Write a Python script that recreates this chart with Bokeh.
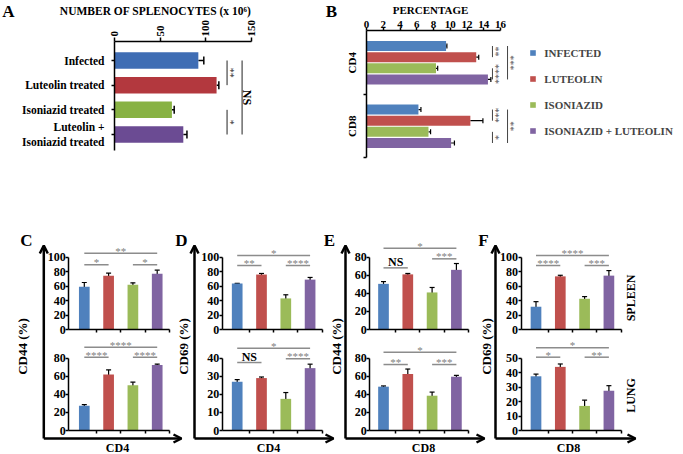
import math
from bokeh.plotting import figure
from bokeh.models import (Range1d, LinearAxis, FixedTicker, Whisker, TeeHead, Arrow,
                          OpenHead, ColumnDataSource, Legend, LegendItem)
from bokeh.layouts import column, row
from bokeh.core.properties import value
from bokeh.embed import file_html
from bokeh.resources import INLINE

FONT = "Liberation Serif"

# ---------------- data ----------------
# Panel A
a_categories = ["Infected", "Luteolin treated", "Isoniazid treated", "Luteolin +\nIsoniazid treated"]
a_counts = [92, 112, 63, 75.5]
a_count_err = [6, 2.5, 2.5, 4]
a_ticks = [0, 50, 100, 150]
a_comparisons = [(0, 1, "**"), (2, 3, "*"), (0, 3, "NS")]

# Panel B
b_series = ["INFECTED", "LUTEOLIN", "ISONIAZID", "ISONIAZID + LUTEOLIN"]
b_cells = ["CD4", "CD8"]
b_cd4 = [9.5, 13.1, 8.3, 14.5]
b_cd4_err = [0.1, 0.3, 0.2, 0.35]
b_cd8 = [6.2, 12.4, 7.4, 10.1]
b_cd8_err = [0.3, 1.5, 0.25, 0.4]
b_ticks = [0, 2, 4, 6, 8, 10, 12, 14, 16]
b_cd4_comparisons = [(0, 1, "**"), (2, 3, "****"), (0, 3, "***")]
b_cd8_comparisons = [(0, 1, "***"), (2, 3, "*"), (0, 3, "**")]

# Panels C-F (spleen = upper plot, lung = lower plot)
treatments = ["Infected", "Luteolin", "Isoniazid", "Isoniazid + Luteolin"]
c_spleen = [59, 74.5, 62, 77]
c_spleen_err = [6, 3.5, 2.5, 5]
c_lung = [27.5, 62, 50, 72.5]
c_lung_err = [1.2, 5, 3.5, 1]
d_spleen = [63.5, 76, 43, 69]
d_spleen_err = [0.5, 1.5, 5, 3]
d_lung = [27, 29, 17.5, 34.5]
d_lung_err = [1.2, 0.6, 3.5, 2.2]
e_spleen = [50.5, 61, 41, 66]
e_spleen_err = [2.5, 1, 5.5, 7]
e_lung = [48.5, 62.5, 38.5, 59.5]
e_lung_err = [0.8, 5.5, 4, 1.5]
f_spleen = [31.5, 73.5, 42.5, 74.5]
f_spleen_err = [7, 1.5, 3, 7]
f_lung = [37.5, 44, 17, 27.5]
f_lung_err = [1.5, 2, 4, 3.5]

c_spleen_sig = [(0, 1, "*"), (2, 3, "*"), (0, 3, "**")]
c_lung_sig = [(0, 1, "****"), (2, 3, "****"), (0, 3, "****")]
d_spleen_sig = [(0, 1, "**"), (2, 3, "****"), (0, 3, "*")]
d_lung_sig = [(0, 1, "NS"), (2, 3, "****"), (0, 3, "*")]
e_spleen_sig = [(0, 1, "NS"), (2, 3, "***"), (0, 3, "*")]
e_lung_sig = [(0, 1, "**"), (2, 3, "***"), (0, 3, "*")]
f_spleen_sig = [(0, 1, "****"), (2, 3, "***"), (0, 3, "****")]
f_lung_sig = [(0, 1, "*"), (2, 3, "**"), (0, 3, "*")]

A_COLORS = ["#3f6db4", "#b3383e", "#88b244", "#6b4b93"]
COLORS = ["#4f81bd", "#c0504d", "#9bbb59", "#8064a2"]


# ---------------- helpers ----------------
def lin_range(va, pa, vb, pb, p_start, p_end):
    k = (vb - va) / (pb - pa)
    return Range1d(start=va + (p_start - pa) * k, end=va + (p_end - pa) * k)


def make_fig(x0, y0, w, h):
    p = figure(width=w, height=h, x_range=Range1d(x0, x0 + w), y_range=Range1d(y0 + h, y0),
               output_backend="svg", toolbar_location=None,
               x_axis_location=None, y_axis_location=None, min_border=0)
    p.outline_line_color = None
    p.xgrid.grid_line_color = None
    p.ygrid.grid_line_color = None
    p.background_fill_color = "white"
    p.border_fill_color = "white"
    return p


def add_text(p, x, y, s, size, angle=0.0, align="center", baseline="middle", color="black",
             style="bold", xr="default", yr="default", xo=0, yo=0):
    p.text(x=[x], y=[y], text=[s], angle=angle, text_font=value(FONT),
           text_font_size=value(f"{size}px"), text_font_style=style, text_align=align,
           text_baseline=baseline, text_color=color, x_offset=xo, y_offset=yo,
           x_range_name=xr, y_range_name=yr)


def style_axis(ax, size=12, width=1.5):
    ax.axis_line_width = width
    ax.axis_line_color = "black"
    ax.major_tick_line_width = width
    ax.minor_tick_line_width = width
    ax.major_label_text_font = FONT
    ax.major_label_text_font_style = "bold"
    ax.major_label_text_font_size = f"{size}px"
    ax.major_label_text_color = "black"
    ax.minor_tick_out = 0
    ax.minor_tick_in = 0
    ax.major_tick_in = 0


# ---------------- Panel A ----------------
AW, TOPH = 320, 225
pA = make_fig(0, 0, AW, TOPH)
pA.extra_x_ranges = {"val": lin_range(0, 114, 150, 250.7, 0, AW)}
pA.extra_y_ranges = {"cat": lin_range(1, 60, 2, 84.67, TOPH, 0)}
a_pos = [i + 1 for i in range(len(a_categories))]
a_src = ColumnDataSource(dict(pos=a_pos, value=a_counts,
                              hi=[v + e for v, e in zip(a_counts, a_count_err)],
                              color=A_COLORS))
pA.hbar(y="pos", right="value", left=0, height=0.67, source=a_src, fill_color="color",
        line_color=None, x_range_name="val", y_range_name="cat")
pA.add_layout(Whisker(source=a_src, base="pos", lower="value", upper="hi", dimension="width",
                      lower_head=None, upper_head=TeeHead(size=8, line_width=1.5),
                      line_width=1.5, line_color="black",
                      x_range_name="val", y_range_name="cat"))
axA_top = LinearAxis(x_range_name="val", fixed_location=41, bounds=(0, 150),
                     ticker=FixedTicker(ticks=a_ticks), major_label_orientation="vertical")
style_axis(axA_top, 11)
axA_top.major_tick_out = 4
axA_top.major_label_standoff = 1
pA.add_layout(axA_top, "above")
axA_left = LinearAxis(y_range_name="cat", fixed_location=114, bounds=(0.23, 4.65),
                      ticker=FixedTicker(ticks=a_pos),
                      major_label_overrides={k: c for k, c in zip(a_pos, a_categories)})
style_axis(axA_left, 11.5)
axA_left.major_tick_out = 3
axA_left.major_label_standoff = 7
pA.add_layout(axA_left, "left")
a_bracket_x = [123.5, 123.5, 140]
for (i, j, lab), xl in zip(a_comparisons, a_bracket_x):
    pA.segment(x0=[xl], y0=[a_pos[i]], x1=[xl], y1=[a_pos[j]], line_color="#222222",
               line_width=1, x_range_name="val", y_range_name="cat")
    if lab == "NS":
        add_text(pA, xl, (a_pos[i] + a_pos[j]) / 2, lab, 12, angle=-math.pi / 2,
                 xr="val", yr="cat", xo=5)
    else:
        add_text(pA, xl, (a_pos[i] + a_pos[j]) / 2, lab, 10, angle=-math.pi / 2,
                 xr="val", yr="cat", xo=3, color="#333333", style="normal")
add_text(pA, 155, 10.5, "NUMBER OF SPLENOCYTES (x 10\u2076)", 11.5)
add_text(pA, 8, 10.5, "A", 17)

# ---------------- Panel B ----------------
BX0, BW = 320, 363
pB = make_fig(BX0, 0, BW, TOPH)
pB.extra_x_ranges = {"val": lin_range(0, 366, 16, 500, BX0, BX0 + BW)}
pB.extra_y_ranges = {"pos": lin_range(0, 45.5, 1, 56.65, TOPH, 0)}
n_b = len(b_series)
gap = 1.7


def bpos(g, i):
    return g * (n_b + gap) + i


b_vals = [b_cd4, b_cd8]
b_errs = [b_cd4_err, b_cd8_err]
b_renderers = []
for i in range(n_b):
    vals = [b_vals[g][i] for g in range(len(b_cells))]
    src = ColumnDataSource(dict(pos=[bpos(g, i) for g in range(len(b_cells))], value=vals,
                                hi=[b_vals[g][i] + b_errs[g][i] for g in range(len(b_cells))]))
    r = pB.hbar(y="pos", right="value", left=0, height=0.9, source=src, fill_color=COLORS[i],
                line_color=None, x_range_name="val", y_range_name="pos")
    b_renderers.append(r)
    pB.add_layout(Whisker(source=src, base="pos", lower="value", upper="hi", dimension="width",
                          lower_head=None, upper_head=TeeHead(size=5, line_width=1.2),
                          line_width=1.2, line_color="black",
                          x_range_name="val", y_range_name="pos"))

axB_top = LinearAxis(x_range_name="val", fixed_location=30, bounds=(0, 16),
                     ticker=FixedTicker(ticks=b_ticks))
style_axis(axB_top, 11)
axB_top.major_tick_out = 3
axB_top.major_label_standoff = 0
pB.add_layout(axB_top, "above")

b_pos_of = lambda py: (py - 45.5) / 11.15
centers = [(bpos(g, 0) + bpos(g, n_b - 1)) / 2 for g in range(len(b_cells))]
between = (bpos(0, n_b - 1) + bpos(1, 0)) / 2
axB_left = LinearAxis(y_range_name="pos", fixed_location=366,
                      bounds=(b_pos_of(30), b_pos_of(156.7)),
                      ticker=FixedTicker(ticks=centers, minor_ticks=[between, b_pos_of(156.7)]),
                      major_label_overrides={c: lab for c, lab in zip(centers, b_cells)},
                      major_label_orientation="vertical")
style_axis(axB_left, 11)
axB_left.major_tick_out = 0
axB_left.minor_tick_out = 3
axB_left.major_label_standoff = 5
pB.add_layout(axB_left, "left")

b_bracket_x = [15.04, 15.04, 16.84]
for g, comps in enumerate([b_cd4_comparisons, b_cd8_comparisons]):
    for (i, j, lab), xl in zip(comps, b_bracket_x):
        pB.segment(x0=[xl], y0=[bpos(g, i)], x1=[xl], y1=[bpos(g, j)], line_color="#444444",
                   line_width=1, x_range_name="val", y_range_name="pos")
        add_text(pB, xl, (bpos(g, i) + bpos(g, j)) / 2, lab, 10, angle=-math.pi / 2,
                 xr="val", yr="pos", xo=3, color="#555555", style="normal")

legend = Legend(items=[LegendItem(label=s, renderers=[r]) for s, r in zip(b_series, b_renderers)],
                location=(529.3 - BX0, TOPH - 136.7), orientation="vertical",
                glyph_width=7, glyph_height=7,
                label_height=12, label_standoff=8, spacing=14, padding=0, margin=0,
                border_line_color=None, background_fill_alpha=0,
                label_text_font=FONT, label_text_font_style="bold", label_text_font_size="11px",
                label_text_baseline="middle")
pB.add_layout(legend)
add_text(pB, 430, 9.5, "PERCENTAGE", 11)
add_text(pB, 331, 11, "B", 17)

# ---------------- Panels C-F ----------------
CY0, CW, CH = TOPH, 683, 454 - TOPH
pC = make_fig(0, CY0, CW, CH)
SP = 24.3
SUB_PX = [(329, 256.7), (430, 357.7)]  # (zero px, max px) for spleen / lung plots
panels = [
    dict(key="C", ylabel="CD44 (%)", xlabel="CD4", arrow_x=43.3, tip=181, axis_x=68.3, c1=83.8,
         letter_x=26, ylabel_x=22, xlabel_x=117,
         subs=[(c_spleen, c_spleen_err, 100, 20, c_spleen_sig, [89.5, 89.5, 105.5]),
               (c_lung, c_lung_err, 80, 20, c_lung_sig, [81.1, 81.1, 92.1])]),
    dict(key="D", ylabel="CD69 (%)", xlabel="CD4", arrow_x=194, tip=333, axis_x=221.7, c1=236.7,
         letter_x=181, ylabel_x=183, xlabel_x=268,
         subs=[(d_spleen, d_spleen_err, 100, 20, d_spleen_sig, [88.5, 88.5, 102.4]),
               (d_lung, d_lung_err, 40, 10, d_lung_sig, [37.6, 39.7, 45.5])]),
    dict(key="E", ylabel="CD44 (%)", xlabel="CD8", arrow_x=345, tip=484, axis_x=369.3, c1=383,
         letter_x=329, ylabel_x=336, xlabel_x=423,
         subs=[(e_spleen, e_spleen_err, 80, 20, e_spleen_sig, [68.2, 78.2, 89.9]),
               (e_lung, e_lung_err, 80, 20, e_lung_sig, [73, 73, 86.6])]),
    dict(key="F", ylabel="CD69 (%)", xlabel="CD8", arrow_x=495, tip=635, axis_x=520.5, c1=535.5,
         letter_x=483, ylabel_x=486, xlabel_x=568,
         subs=[(f_spleen, f_spleen_err, 100, 20, f_spleen_sig, [88.5, 88.5, 102.4]),
               (f_lung, f_lung_err, 50, 10, f_lung_sig, [50.7, 50.7, 57.2])]),
]
ARROW_Y = 438
xr = {}
yr = {}
for pan in panels:
    k = pan["key"]
    xr["bars" + k] = lin_range(1, pan["c1"], 2, pan["c1"] + SP, 0, CW)
    for s, sub in enumerate(pan["subs"]):
        ymax = sub[2]
        zero_px, max_px = SUB_PX[s]
        yr[f"sub{k}{s}"] = lin_range(0, zero_px, ymax, max_px, CY0 + CH, CY0)
pC.extra_x_ranges = xr
pC.extra_y_ranges = yr

for pan in panels:
    k = pan["key"]
    xname = "bars" + k
    u_start = 1 + (pan["axis_x"] - pan["c1"]) / SP
    xs = [i + 1 for i in range(len(treatments))]
    for s, (vals, errs, ymax, step, sig, lv) in enumerate(pan["subs"]):
        yname = f"sub{k}{s}"
        src = ColumnDataSource(dict(x=xs, top=vals, lo=[v - e for v, e in zip(vals, errs)],
                                    hi=[v + e for v, e in zip(vals, errs)], color=COLORS))
        pC.vbar(x="x", top="top", bottom=0, width=0.44, source=src, fill_color="color",
                line_color=None, x_range_name=xname, y_range_name=yname)
        pC.add_layout(Whisker(source=src, base="x", lower="lo", upper="hi", dimension="height",
                              lower_head=TeeHead(size=5, line_width=1.2),
                              upper_head=TeeHead(size=5, line_width=1.2),
                              line_width=1.2, line_color="black",
                              x_range_name=xname, y_range_name=yname))
        ay = LinearAxis(y_range_name=yname, fixed_location=pan["axis_x"], bounds=(0, ymax),
                        ticker=FixedTicker(ticks=list(range(0, ymax + 1, step))))
        style_axis(ay, 12)
        ay.major_tick_out = 3
        ay.major_label_standoff = 0
        pC.add_layout(ay, "left")
        ax = LinearAxis(x_range_name=xname, y_range_name=yname, fixed_location=0,
                        bounds=(u_start, 4.5),
                        ticker=FixedTicker(ticks=[], minor_ticks=[1.5, 2.5, 3.5, 4.5]))
        style_axis(ax, 12)
        ax.minor_tick_out = 3
        pC.add_layout(ax, "below")
        for (i, j, lab), level in zip(sig, lv):
            pC.segment(x0=[xs[i]], y0=[level], x1=[xs[j]], y1=[level], line_color="#8c8c8c",
                       line_width=1.5, x_range_name=xname, y_range_name=yname)
            if lab == "NS":
                add_text(pC, (xs[i] + xs[j]) / 2, level, lab, 12, baseline="alphabetic",
                         xr=xname, yr=yname, yo=-5.5)
            else:
                add_text(pC, (xs[i] + xs[j]) / 2, level, lab, 11, baseline="alphabetic",
                         xr=xname, yr=yname, yo=-2.5, color="#808080", style="normal")
    # big arrow axes
    pC.add_layout(Arrow(x_start=pan["arrow_x"], y_start=ARROW_Y, x_end=pan["arrow_x"], y_end=245,
                        line_width=2.5, line_color="black",
                        end=OpenHead(size=8, line_width=2.5, line_color="black")))
    pC.add_layout(Arrow(x_start=pan["arrow_x"], y_start=ARROW_Y, x_end=pan["tip"], y_end=ARROW_Y,
                        line_width=2.5, line_color="black",
                        end=OpenHead(size=8, line_width=2.5, line_color="black")))
    add_text(pC, pan["letter_x"], 240, k, 17)
    add_text(pC, pan["ylabel_x"], 346, pan["ylabel"], 13, angle=math.pi / 2)
    add_text(pC, pan["xlabel_x"], 447.5, pan["xlabel"], 12)

add_text(pC, 630, 297.5, "SPLEEN", 12, angle=math.pi / 2)
add_text(pC, 630, 395, "LUNG", 12, angle=math.pi / 2)

layout = column(row(pA, pB), pC)
open("out.html", "w").write(file_html(layout, INLINE))
